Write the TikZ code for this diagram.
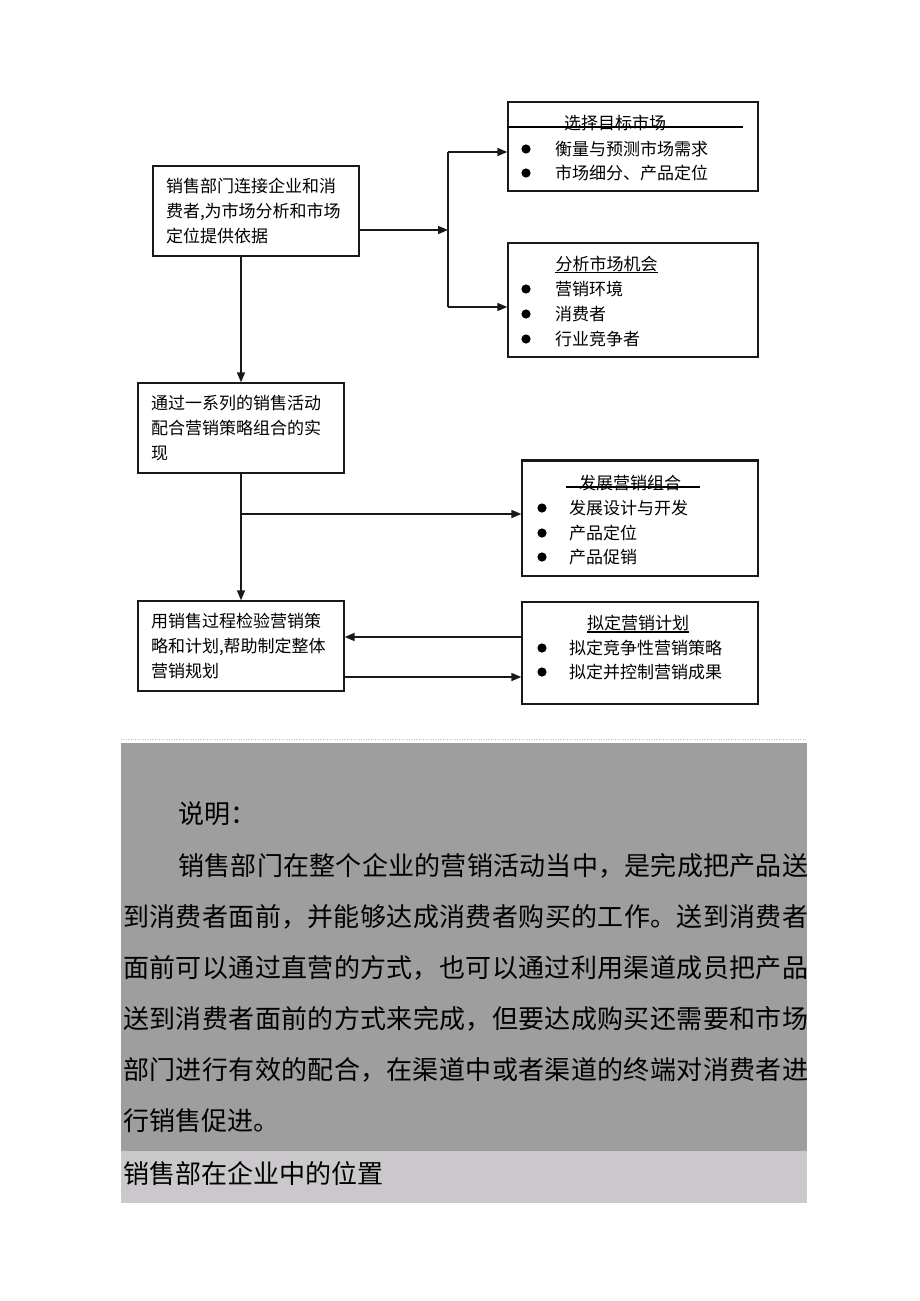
\documentclass[tikz,border=0pt]{standalone}
\usepackage{fontspec}
\setmainfont{Noto Sans CJK SC}
\usetikzlibrary{arrows.meta}
\XeTeXlinebreaklocale "zh"
\XeTeXlinebreakskip=0pt plus 2pt minus 1.5pt
\definecolor{darkshade}{RGB}{158,158,158}
\definecolor{lightshade}{RGB}{203,200,203}

\begin{document}
\begin{tikzpicture}[x=1pt,y=-1pt,
  box/.style={draw=black!90,line width=1.3pt,rectangle,inner sep=0pt},
  lbox/.style={box,text width=180pt,inner xsep=13pt,inner ysep=0pt,minimum height=90pt,align=left,font=\fontsize{17}{25}\selectfont},
  item/.style={anchor=west,inner sep=0pt,font=\fontsize{17}{20}\selectfont},
  ttl/.style={inner sep=0pt,font=\fontsize{17}{20}\selectfont},
  wire/.style={line width=1.6pt,black!90},
  arr/.style={wire,-{Triangle[length=10pt,width=8pt]}}]
\useasboundingbox (0,0) rectangle (920,1301);
% left column
\node[lbox] (box1) at (256,211) {销售部门连接企业和消\\费者,为市场分析和市场\\定位提供依据};
\node[lbox] (box2) at (241,428) {通过一系列的销售活动\\配合营销策略组合的实\\现};
\node[lbox] (box3) at (241,646) {用销售过程检验营销策\\略和计划,帮助制定整体\\营销规划};
% right column
\node[box,minimum width=250pt,minimum height=89pt] (boxA) at (633,146.5) {};
\node[box,minimum width=250pt,minimum height=114pt] (boxB) at (633,300) {};
\node[box,minimum width=236pt,minimum height=115pt] (boxC) at (640,518.5) {};
\node[box,minimum width=236pt,minimum height=102pt] (boxD) at (640,653) {};
\draw[line width=2.2pt,black!90] (boxC.north west) -- (boxC.north east);
% titles
\node[ttl] (tA) at (615,123) {选择目标市场};
\draw[line width=1.1pt] (boxA.west |- 0,127) -- (743,127);
\node[ttl] (tB) at (606.5,264) {分析市场机会};
\draw[line width=1.1pt] (555,272.5) -- (658,272.5);
\node[ttl] (tC) at (630,483) {发展营销组合};
\draw[line width=1.1pt] (566,487) -- (700,487);
\node[ttl] (tD) at (638,623) {拟定营销计划};
\draw[line width=1.1pt] (587,632) -- (689,632);
% bullet items
\foreach \y/\t in {149/衡量与预测市场需求,173/市场细分、产品定位}
  {\fill (526,\y) circle (4.6pt); \node[item] (iA\y) at (555,\y) {\t};}
\foreach \y/\t in {289/营销环境,314/消费者,339/行业竞争者}
  {\fill (526,\y) circle (4.6pt); \node[item] (iB\y) at (555,\y) {\t};}
\foreach \y/\t in {508/发展设计与开发,533/产品定位,557/产品促销}
  {\fill (542,\y) circle (4.6pt); \node[item] (iC\y) at (569,\y) {\t};}
\foreach \y/\t in {648/拟定竞争性营销策略,672/拟定并控制营销成果}
  {\fill (542,\y) circle (4.6pt); \node[item] (iD\y) at (569,\y) {\t};}
% connectors
\coordinate (fork) at (448,230);
\coordinate (forkA) at (448,152);
\coordinate (forkB) at (448,307);
\coordinate (forkC) at (241,514);
\draw[arr] (box1.east |- fork) -- (fork);
\draw[wire] (forkA) -- (forkB);
\draw[arr] (forkA) -- (forkA -| boxA.west);
\draw[arr] (forkB) -- (forkB -| boxB.west);
\draw[arr] (box1.south -| box2) -- (box2.north);
\draw[arr] (box2.south) -- (box3.north);
\draw[arr] (forkC) -- (forkC -| boxC.west);
\draw[arr] ([yshift=16pt]boxD.west) -- ([yshift=16pt]boxD.west -| box3.east);
\draw[arr] ([yshift=-31pt]box3.east) -- ([yshift=-31pt]box3.east -| boxD.west);
% shaded note
\draw[black!25,dotted] (121,739) -- (807,739);
\fill[darkshade] (121,743) rectangle (807,1151);
\fill[lightshade] (121,1151) rectangle (807,1203);
\node[anchor=base west,inner sep=0pt,font=\fontsize{26}{30}\selectfont] (note) at (178,823) {说明：};
\node[anchor=base west,inner sep=0pt,text width=685pt,align=justify,font=\fontsize{26}{51}\selectfont] (para) at (123,875)
  {\hspace*{55pt}销售部门在整个企业的营销活动当中，是完成把产品送\linebreak
   到消费者面前，并能够达成消费者购买的工作。送到消费者\linebreak
   面前可以通过直营的方式，也可以通过利用渠道成员把产品\linebreak
   送到消费者面前的方式来完成，但要达成购买还需要和市场\linebreak
   部门进行有效的配合，在渠道中或者渠道的终端对消费者进\linebreak
   行销售促进。};
\node[anchor=base west,inner sep=0pt,font=\fontsize{26}{30}\selectfont] (caption) at (123,1183) {销售部在企业中的位置};
\end{tikzpicture}
\end{document}
